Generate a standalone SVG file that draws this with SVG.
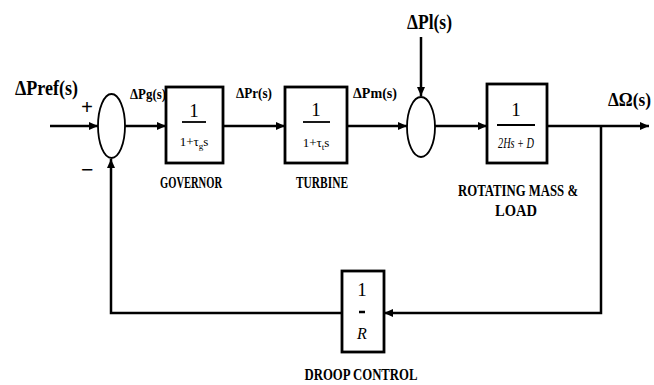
<svg xmlns="http://www.w3.org/2000/svg" width="654" height="385" viewBox="0 0 654 385">
<style>
  .ln{fill:none;stroke:#000;stroke-width:2.5}
  .box{fill:#fff;stroke:#000;stroke-width:2.8}
  .sum{fill:#fff;stroke:#000;stroke-width:1.8}
  .t{font-family:"Liberation Serif",serif;font-weight:bold;fill:#000}
  .f{font-family:"Liberation Serif",serif;fill:#000}
</style>
<defs>
  <marker id="ah" viewBox="0 0 10 10" refX="10" refY="5" markerWidth="9" markerHeight="8" markerUnits="userSpaceOnUse" orient="auto" preserveAspectRatio="none">
    <path d="M0,0 L10,5 L0,10 Z" fill="#000"/>
  </marker>
</defs>
<rect width="654" height="385" fill="#fff"/>
<g id="connectors">
  <path class="ln" d="M50,126 L98,126" marker-end="url(#ah)"/>
  <path class="ln" d="M125,126 L166,126" marker-end="url(#ah)"/>
  <path class="ln" d="M223,126 L285,126" marker-end="url(#ah)"/>
  <path class="ln" d="M347,126 L407,126" marker-end="url(#ah)"/>
  <path class="ln" d="M421,37 L421,96" marker-end="url(#ah)"/>
  <path class="ln" d="M435,126 L487,126" marker-end="url(#ah)"/>
  <path class="ln" d="M547,126 L649,126" marker-end="url(#ah)"/>
  <path class="ln" d="M601,126 L601,313 L384,313" marker-end="url(#ah)"/>
  <path class="ln" d="M342,313 L111,313 L111,159" marker-end="url(#ah)"/>
</g>
<g id="labels">
  <text class="t" x="15" y="95" font-size="20" textLength="63" lengthAdjust="spacingAndGlyphs">ΔPref(s)</text>
  <text class="t" x="81" y="114" font-size="21">+</text>
  <text class="t" x="81" y="177" font-size="22">−</text>
  <text class="t" x="130" y="99" font-size="14" textLength="36" lengthAdjust="spacingAndGlyphs">ΔPg(s)</text>
  <text class="t" x="236" y="98" font-size="14" textLength="36" lengthAdjust="spacingAndGlyphs">ΔPr(s)</text>
  <text class="t" x="353" y="98" font-size="14" textLength="44" lengthAdjust="spacingAndGlyphs">ΔPm(s)</text>
  <text class="t" x="407" y="29" font-size="20" textLength="45" lengthAdjust="spacingAndGlyphs">ΔPl(s)</text>
  <text class="t" x="608" y="106" font-size="19" textLength="43" lengthAdjust="spacingAndGlyphs">ΔΩ(s)</text>
</g>
<g id="sum1"><ellipse class="sum" cx="111.5" cy="126" rx="13.5" ry="32"/></g>
<g id="sum2"><ellipse class="sum" cx="421" cy="127" rx="14" ry="30"/></g>
<g id="governor">
  <rect class="box" x="166" y="87" width="57" height="76"/>
  <text class="f" x="194" y="117" font-size="19" text-anchor="middle">1</text>
  <line x1="182" y1="122" x2="206" y2="122" stroke="#000" stroke-width="1.8"/>
  <text class="f" x="194" y="146" font-size="13" text-anchor="middle">1+τ<tspan font-size="9" dy="3">g</tspan><tspan dy="-3">s</tspan></text>
  <text class="t" x="191" y="188" font-size="16" text-anchor="middle" textLength="62" lengthAdjust="spacingAndGlyphs">GOVERNOR</text>
</g>
<g id="turbine">
  <rect class="box" x="285" y="87" width="62" height="76"/>
  <text class="f" x="316" y="116" font-size="19" text-anchor="middle">1</text>
  <line x1="303" y1="122" x2="330" y2="122" stroke="#000" stroke-width="1.8"/>
  <text class="f" x="316" y="147" font-size="13" text-anchor="middle">1+τ<tspan font-size="9" dy="3">t</tspan><tspan dy="-3">s</tspan></text>
  <text class="t" x="322" y="188" font-size="16" text-anchor="middle" textLength="52" lengthAdjust="spacingAndGlyphs">TURBINE</text>
</g>
<g id="rotating-mass">
  <rect class="box" x="487" y="84" width="60" height="79" stroke-width="3.2"/>
  <text class="f" x="516" y="116" font-size="19" text-anchor="middle">1</text>
  <line x1="497" y1="125" x2="535" y2="125" stroke="#000" stroke-width="1.8"/>
  <text class="f" x="516" y="148" font-size="15" font-style="italic" text-anchor="middle" textLength="36" lengthAdjust="spacingAndGlyphs">2Hs + D</text>
  <text class="t" x="518" y="196" font-size="16" text-anchor="middle" textLength="120" lengthAdjust="spacingAndGlyphs">ROTATING MASS &amp;</text>
  <text class="t" x="516" y="216" font-size="16" text-anchor="middle" textLength="42" lengthAdjust="spacingAndGlyphs">LOAD</text>
</g>
<g id="droop">
  <rect class="box" x="342" y="271" width="42" height="81"/>
  <text class="f" x="362" y="296" font-size="19" text-anchor="middle">1</text>
  <line x1="359" y1="312" x2="365" y2="312" stroke="#000" stroke-width="2.5"/>
  <text class="f" x="362" y="339" font-size="16" font-style="italic" text-anchor="middle">R</text>
  <text class="t" x="361" y="380" font-size="16" text-anchor="middle" textLength="113" lengthAdjust="spacingAndGlyphs">DROOP CONTROL</text>
</g>
</svg>
